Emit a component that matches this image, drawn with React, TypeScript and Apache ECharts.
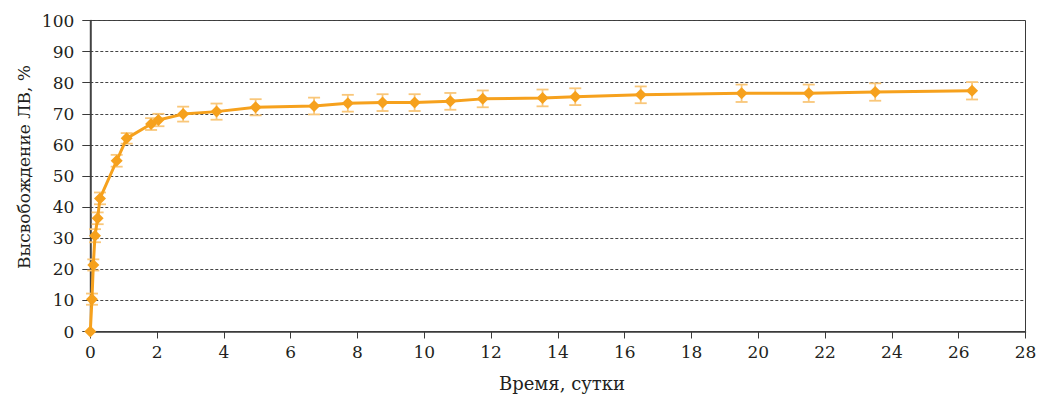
import React, { useEffect, useRef } from "react";
import * as echarts from "echarts";

const times = [0, 0.05, 0.09, 0.14, 0.22, 0.29, 0.79, 1.09, 1.82, 2.04, 2.78, 3.78, 4.95, 6.7, 7.71, 8.75, 9.71, 10.78, 11.75, 13.54, 14.52, 16.48, 19.5, 21.51, 23.5, 26.4];
const release = [0, 10.4, 21.4, 30.8, 36.4, 42.8, 54.9, 62.1, 66.7, 68.0, 69.9, 70.7, 72.1, 72.5, 73.4, 73.6, 73.6, 74.0, 74.8, 75.1, 75.5, 76.1, 76.6, 76.6, 77.0, 77.4];
const errors = [0, 1.8, 1.8, 2.1, 1.9, 1.9, 1.9, 1.7, 1.9, 2.0, 2.4, 2.6, 2.6, 2.7, 2.7, 2.7, 2.7, 2.7, 2.7, 2.7, 2.7, 2.7, 2.8, 2.8, 2.8, 2.8];

const xTitle = "Время, сутки";
const yTitle = "Высвобождение ЛВ, %";

const FONT = "DejaVu Serif";
const TEXT = "#231f20";
const LINE = "#F6A11D";
const ERR = "#F9C77A";

export default function App() {
  const ref = useRef<HTMLDivElement>(null);
  useEffect(() => {
    if (!ref.current) return;
    const chart = echarts.init(ref.current, undefined, { renderer: "svg" });
    const pts = times.map((t, i) => [t, release[i]]);
    const errData = times.map((t, i) => [t, release[i], errors[i]]);
    chart.setOption({
      animation: false,
      grid: {
        left: 90.3,
        right: 25.5,
        top: 20.5,
        bottom: 62.5,
        show: true,
        borderColor: "#3a3a3a",
        borderWidth: 1,
      },
      graphic: [
        {
          type: "text",
          x: 562,
          y: 383,
          style: { text: xTitle, fontFamily: FONT, fontSize: 18, fill: TEXT, align: "center", verticalAlign: "middle" },
        },
        {
          type: "text",
          x: 24,
          y: 167,
          rotation: Math.PI / 2,
          style: { text: yTitle, fontFamily: FONT, fontSize: 17, fill: TEXT, align: "center", verticalAlign: "middle" },
        },
      ],
      xAxis: {
        type: "value",
        min: 0,
        max: 28,
        interval: 2,
        axisLine: { show: true, lineStyle: { color: "#3a3a3a", width: 1.5 } },
        axisTick: { show: true, length: 7, lineStyle: { color: "#3a3a3a" } },
        axisLabel: { fontFamily: FONT, fontSize: 17, color: TEXT, margin: 12 },
        splitLine: { show: false },
      },
      yAxis: {
        type: "value",
        min: 0,
        max: 100,
        interval: 10,
        axisLine: { show: true, lineStyle: { color: "#3a3a3a", width: 1.5 } },
        axisTick: { show: true, length: 8, lineStyle: { color: "#3a3a3a" } },
        axisLabel: { fontFamily: FONT, fontSize: 17, color: TEXT, margin: 16 },
        splitLine: { show: true, lineStyle: { color: "#444", type: [3, 2], width: 1 } },
      },
      series: [
        {
          type: "custom",
          z: 1,
          data: errData,
          encode: { x: 0, y: 1 },
          renderItem: (params: any, api: any) => {
            const x = api.value(0);
            const y = api.value(1);
            const e = api.value(2);
            if (!e) return { type: "group", children: [] };
            const top = api.coord([x, y + e]);
            const bot = api.coord([x, y - e]);
            const hw = 6;
            const style = { stroke: ERR, lineWidth: 1.8 };
            return {
              type: "group",
              children: [
                { type: "line", shape: { x1: top[0], y1: top[1], x2: bot[0], y2: bot[1] }, style },
                { type: "line", shape: { x1: top[0] - hw, y1: top[1], x2: top[0] + hw, y2: top[1] }, style },
                { type: "line", shape: { x1: bot[0] - hw, y1: bot[1], x2: bot[0] + hw, y2: bot[1] }, style },
              ],
            };
          },
        },
        {
          type: "line",
          z: 2,
          data: pts,
          symbol: "diamond",
          symbolSize: 12,
          showAllSymbol: true,
          lineStyle: { color: LINE, width: 3 },
          itemStyle: { color: LINE },
        },
      ],
    });
    return () => chart.dispose();
  }, []);
  return (
    <div
      ref={ref}
      style={{ position: "fixed", left: 0, top: 0, width: 1051, height: 394, background: "#fff" }}
    />
  );
}
